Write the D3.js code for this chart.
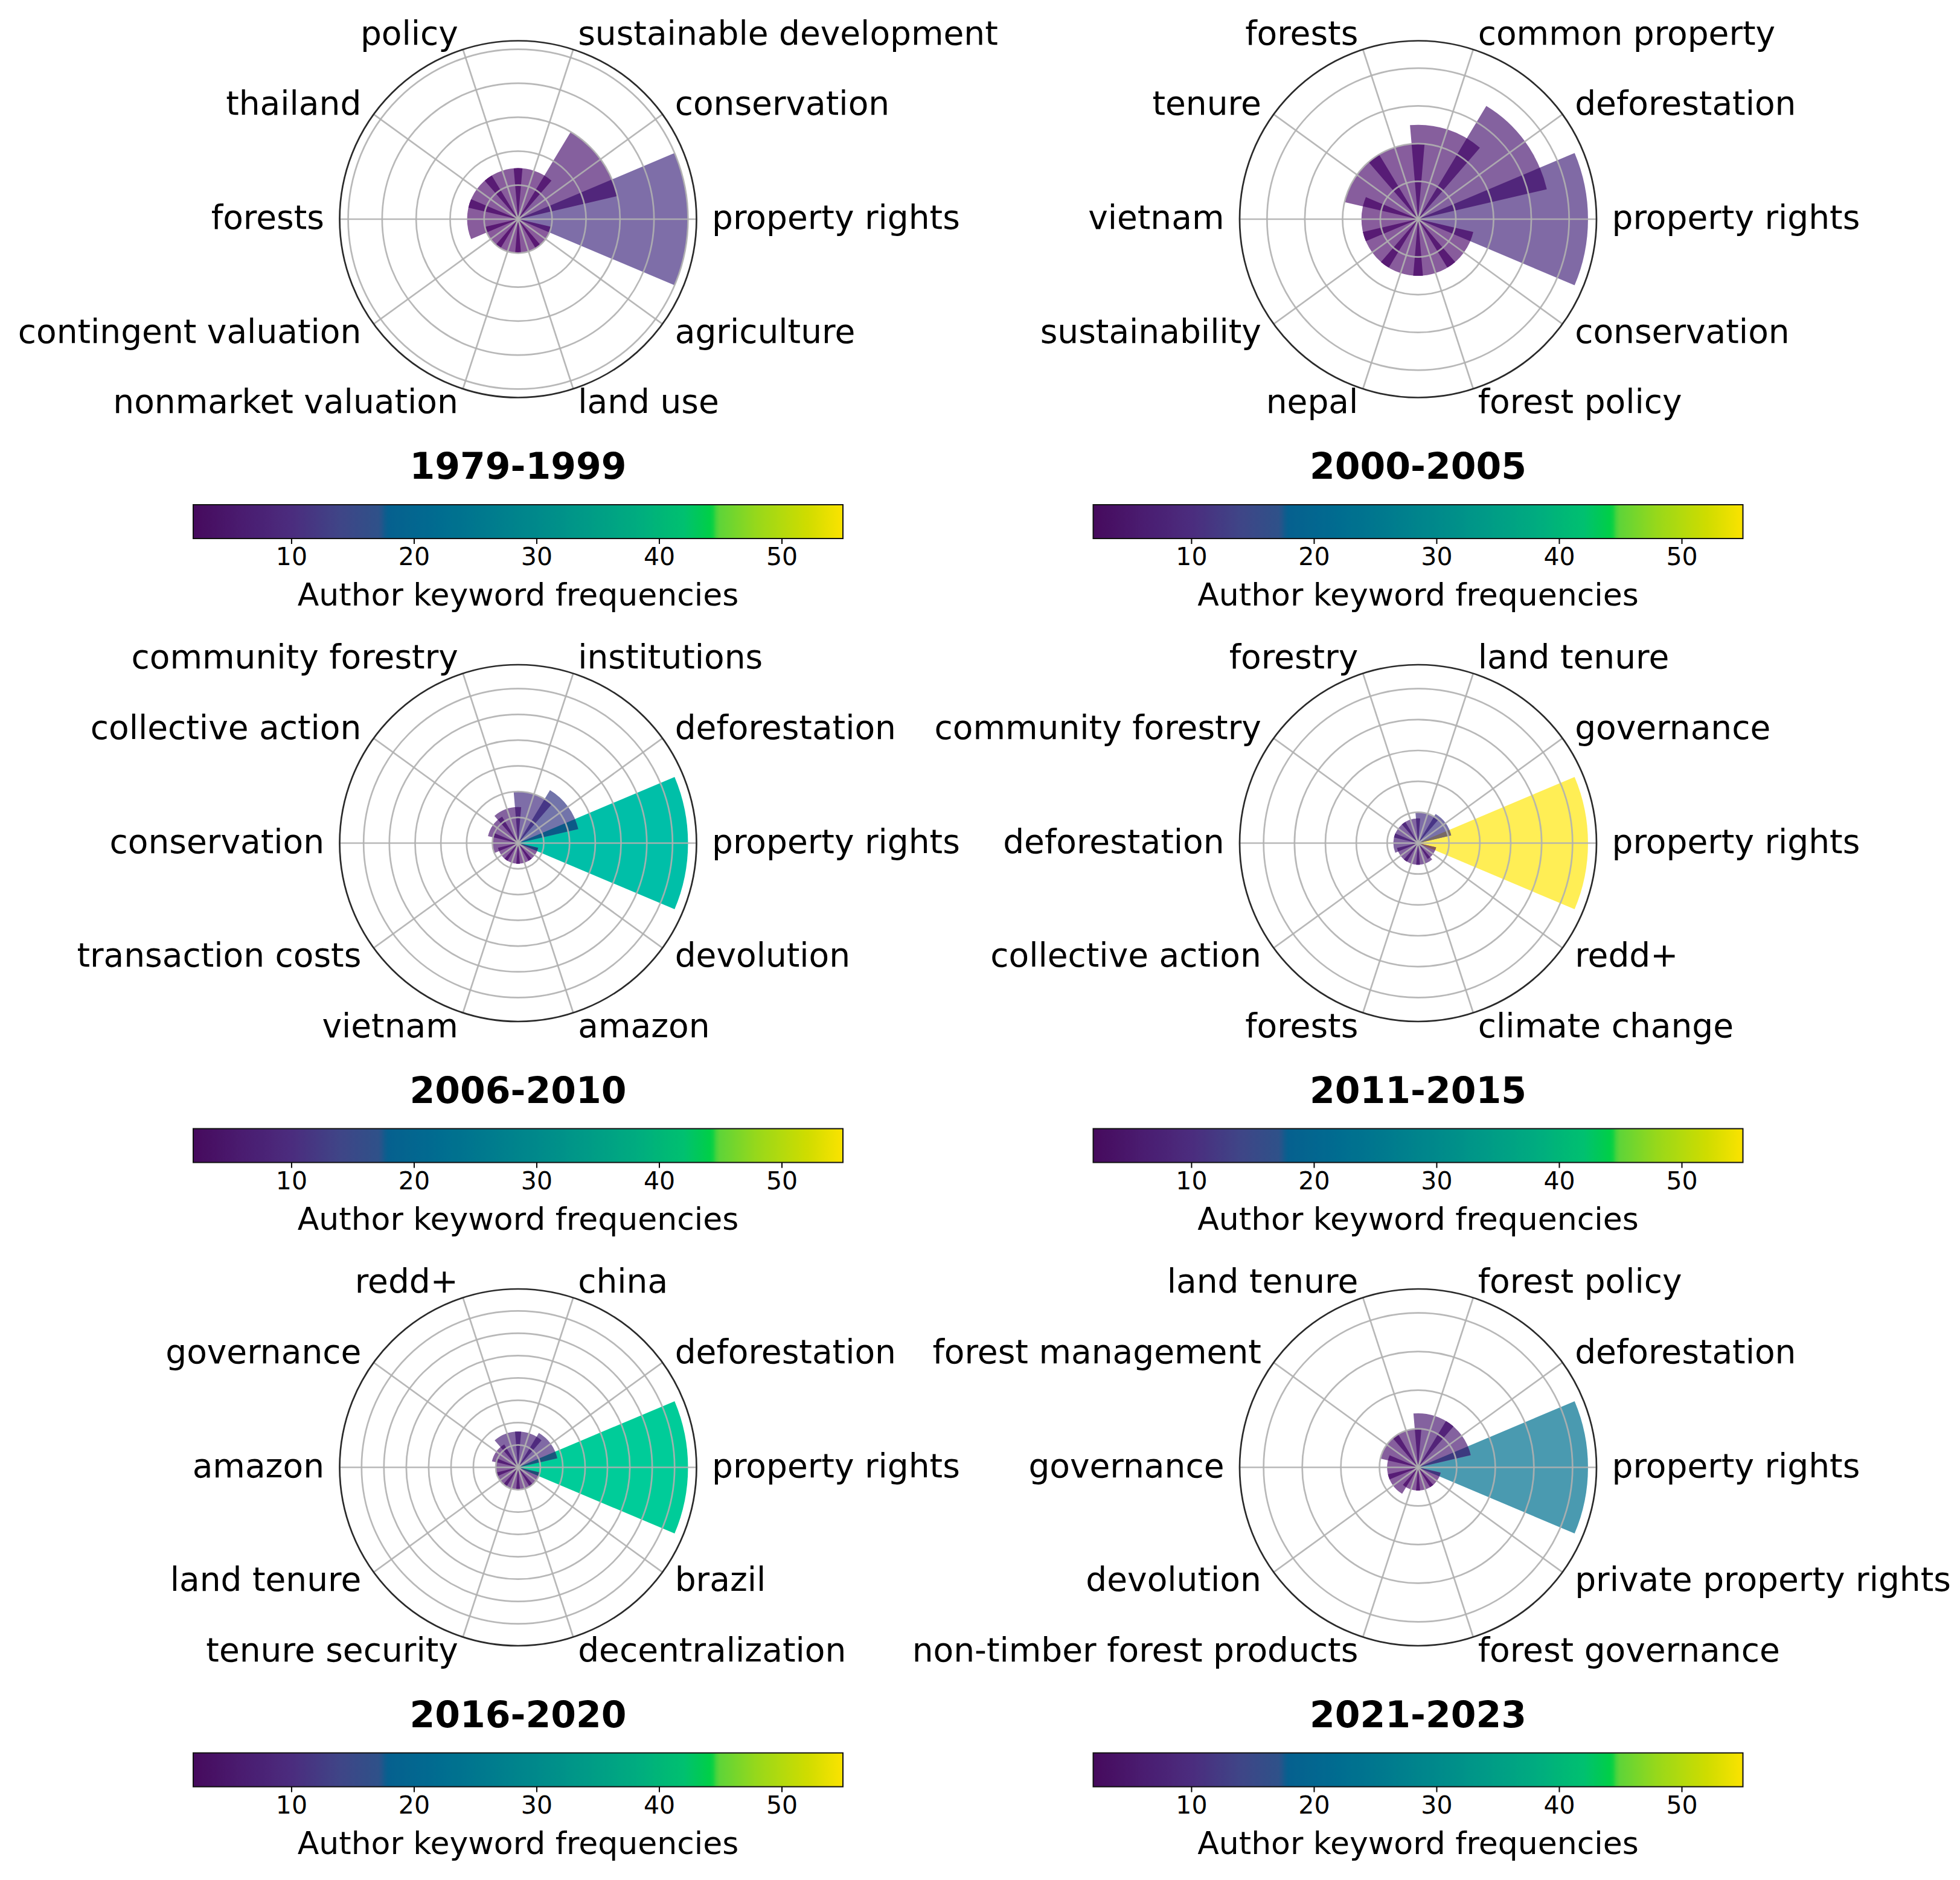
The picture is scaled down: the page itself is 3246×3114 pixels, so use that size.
<!DOCTYPE html>
<html>
<head>
<meta charset="utf-8">
<script src="https://cdn.jsdelivr.net/npm/d3@7"></script>
<style>
  html, body { margin: 0; padding: 0; background: #ffffff; }
  svg { display: block; }
  text { font-family: "DejaVu Sans", sans-serif; fill: #000; }
</style>
</head>
<body>
<svg id="chart" width="3246" height="3114"></svg>
<script>
// ---------------- DATA ----------------
const periods = ["1979-1999", "2000-2005", "2006-2010", "2011-2015", "2016-2020", "2021-2023"];

const keywords1979 = ["property rights", "conservation", "sustainable development", "policy", "thailand",
  "forests", "contingent valuation", "nonmarket valuation", "land use", "agriculture"];
const values1979 = [10, 6, 3, 3, 3, 3, 2, 2, 2, 2];

const keywords2000 = ["property rights", "deforestation", "common property", "forests", "tenure",
  "vietnam", "sustainability", "nepal", "forest policy", "conservation"];
const values2000 = [9, 7, 5, 4, 4, 3, 3, 3, 3, 3];

const keywords2006 = ["property rights", "deforestation", "institutions", "community forestry", "collective action",
  "conservation", "transaction costs", "vietnam", "amazon", "devolution"];
const values2006 = [33, 12, 10, 7, 6, 5, 4, 4, 4, 4];

const keywords2011 = ["property rights", "governance", "land tenure", "forestry", "community forestry",
  "deforestation", "collective action", "forests", "climate change", "redd+"];
const values2011 = [55, 11, 10, 8, 8, 8, 7, 7, 7, 6];

const keywords2016 = ["property rights", "deforestation", "china", "redd+", "governance",
  "amazon", "land tenure", "tenure security", "decentralization", "brazil"];
const values2016 = [38, 9, 8, 8, 6, 5, 5, 5, 5, 5];

const keywords2021 = ["property rights", "deforestation", "forest policy", "land tenure", "forest management",
  "governance", "devolution", "non-timber forest products", "forest governance", "private property rights"];
const values2021 = [22, 7, 7, 5, 5, 4, 4, 3, 3, 3];

const colorbarTicks = [10, 20, 30, 40, 50];
const colorbarDomain = [2, 55];
const colorbarLabel = "Author keyword frequencies";

// ---------------- STYLE / LAYOUT ----------------
const allKeywords = [keywords1979, keywords2000, keywords2006, keywords2011, keywords2016, keywords2021];
const allValues = [values1979, values2000, values2006, values2011, values2016, values2021];

const colX = [858, 2348.5];
const rowY = [363, 1396.5, 2430.5];
const R = 295.5;
const barWidth = 0.8;          // radians
const barAlpha = 0.6;
const labelR = 321;
const cbHalfW = 538;

// colormap seen in the reference colour bar (viridis-like, saturated)
const cmapStops = [
  [2, "#460a5d"], [6, "#4a1c70"], [10, "#4b2c7e"], [14, "#3f4587"], [17.2, "#2e5189"],
  [17.8, "#06608f"], [22, "#006c90"], [26, "#007b8e"], [30, "#00898b"], [34, "#009a87"],
  [38, "#00ab80"], [42, "#00c070"], [44.3, "#00d045"], [44.8, "#5cd43a"], [48, "#98d81a"],
  [52, "#cedc00"], [55, "#fbe300"]
];
const cmap = d3.scaleLinear()
  .domain(cmapStops.map(d => d[0]))
  .range(cmapStops.map(d => d[1]))
  .interpolate(d3.interpolateRgb)
  .clamp(true);

// translucent bar tint (as the bars appear over white)
const barStops = [
  [2, "#895a9b"], [7, "#84629f"], [10, "#7e6ea8"], [12, "#7274aa"], [17, "#5f84ae"],
  [22, "#4a9ab0"], [28, "#27aeac"], [33, "#00bfa8"], [38, "#00cc99"], [44, "#30d870"],
  [50, "#b8e040"], [55, "#ffee55"]
];
const barColor = d3.scaleLinear()
  .domain(barStops.map(d => d[0]))
  .range(barStops.map(d => d[1]))
  .interpolate(d3.interpolateRgb)
  .clamp(true);

// colour where a later translucent bar lies over an earlier one
function overlapColor(vTop, vBottom) {
  const t = d3.rgb(barColor(vTop)), b = d3.rgb(barColor(vBottom));
  const k = 1 - barAlpha;
  const f = (ct, cb) => Math.max(0, Math.min(255, ct - k * (255 - cb)));
  return d3.rgb(f(t.r, b.r), f(t.g, b.g), f(t.b, b.b)).formatHex();
}

function radialStep(top) {
  const raw = top / 8;
  const p = Math.pow(10, Math.floor(Math.log10(raw)));
  for (const m of [1, 2, 5, 10]) if (m * p >= raw - 1e-9) return m * p;
  return 10 * p;
}

const svg = d3.select("#chart");
svg.append("rect").attr("width", 3246).attr("height", 3114).attr("fill", "#fff");

const defs = svg.append("defs");
const grad = defs.append("linearGradient").attr("id", "cbgrad")
  .attr("x1", "0%").attr("x2", "100%").attr("y1", "0%").attr("y2", "0%");
d3.range(0, 201).forEach(i => {
  const t = i / 200;
  const v = colorbarDomain[0] + t * (colorbarDomain[1] - colorbarDomain[0]);
  grad.append("stop").attr("offset", (t * 100) + "%").attr("stop-color", cmap(v));
});

periods.forEach((period, k) => {
  const cx = colX[k % 2];
  const cy = rowY[Math.floor(k / 2)];
  const keys = allKeywords[k];
  const vals = allValues[k];
  const n = keys.length;
  const vmax = d3.max(vals);
  const top = vmax * 1.05;

  const rScale = d3.scaleLinear().domain([0, top]).range([0, R]);
  const theta = d3.scaleLinear().domain([0, n]).range([0, 2 * Math.PI]); // math angle, CCW from east

  const g = svg.append("g").attr("transform", `translate(${cx},${cy})`);

  // bars
  const arc = d3.arc()
    .innerRadius(0)
    .outerRadius(d => rScale(d.v))
    .startAngle(d => Math.PI / 2 - d.a1)
    .endAngle(d => Math.PI / 2 - d.a0);

  const bars = vals.map((v, i) => ({ v, i, a0: theta(i) - barWidth / 2, a1: theta(i) + barWidth / 2 }));
  g.append("g").selectAll("path")
    .data(bars)
    .join("path")
    .attr("d", arc)
    .attr("fill", d => barColor(d.v));

  // overlaps between neighbouring translucent bars (later bar drawn over earlier)
  const overlaps = d3.range(n).map(i => {
    const j = (i + 1) % n;
    const lower = Math.min(i, j), upper = Math.max(i, j);
    return {
      v: Math.min(vals[i], vals[j]),
      a0: theta(i + 1) - barWidth / 2,
      a1: theta(i) + barWidth / 2,
      color: overlapColor(vals[upper], vals[lower])
    };
  });
  g.append("g").selectAll("path")
    .data(overlaps)
    .join("path")
    .attr("d", arc)
    .attr("fill", d => d.color);

  // grid circles
  const step = radialStep(top);
  const rticks = d3.range(step, top - 1e-9, step);
  g.append("g").selectAll("circle")
    .data(rticks)
    .join("circle")
    .attr("r", d => rScale(d))
    .attr("fill", "none")
    .attr("stroke", "#b0b0b0")
    .attr("stroke-opacity", 0.9)
    .attr("stroke-width", 2.7);

  // radial grid lines
  g.append("g").selectAll("line")
    .data(d3.range(n))
    .join("line")
    .attr("x1", 0).attr("y1", 0)
    .attr("x2", i => R * Math.cos(theta(i)))
    .attr("y2", i => -R * Math.sin(theta(i)))
    .attr("stroke", "#b0b0b0")
    .attr("stroke-opacity", 0.9)
    .attr("stroke-width", 2.7);

  // spine
  g.append("circle").attr("r", R).attr("fill", "none")
    .attr("stroke", "#2a2a2a").attr("stroke-width", 2.7);

  // category labels
  g.append("g").selectAll("text")
    .data(keys.map((key, i) => ({ key, i })))
    .join("text")
    .attr("x", d => labelR * Math.cos(theta(d.i)))
    .attr("y", d => -labelR * Math.sin(theta(d.i)) - 3)
    .attr("text-anchor", d => {
      const c = Math.cos(theta(d.i));
      return Math.abs(c) < 1e-6 ? "middle" : (c > 0 ? "start" : "end");
    })
    .attr("dominant-baseline", "central")
    .attr("font-size", 55)
    .text(d => d.key);

  // title
  svg.append("text")
    .attr("x", cx).attr("y", cy + 409)
    .attr("text-anchor", "middle")
    .attr("dominant-baseline", "central")
    .attr("font-size", 60)
    .attr("font-weight", "bold")
    .text(period);

  // colour bar
  const cbX = d3.scaleLinear().domain(colorbarDomain).range([cx - cbHalfW, cx + cbHalfW]);
  const cbTop = cy + 473, cbH = 56;
  svg.append("rect")
    .attr("x", cbX(colorbarDomain[0])).attr("y", cbTop)
    .attr("width", cbX(colorbarDomain[1]) - cbX(colorbarDomain[0])).attr("height", cbH)
    .attr("fill", "url(#cbgrad)")
    .attr("stroke", "#111").attr("stroke-width", 2);

  const axis = d3.axisBottom(cbX).tickValues(colorbarTicks).tickSize(9).tickPadding(6).tickFormat(d3.format("d"));
  const ax = svg.append("g").attr("transform", `translate(0,${cbTop + cbH})`).call(axis);
  ax.select(".domain").remove();
  ax.selectAll(".tick line").attr("stroke", "#000").attr("stroke-width", 2);
  ax.selectAll(".tick text")
    .attr("font-size", 41)
    .attr("font-family", "DejaVu Sans")
    .attr("fill", "#000");

  svg.append("text")
    .attr("x", cx).attr("y", cy + 622)
    .attr("text-anchor", "middle")
    .attr("dominant-baseline", "central")
    .attr("font-size", 52)
    .text(colorbarLabel);
});
</script>
</body>
</html>
